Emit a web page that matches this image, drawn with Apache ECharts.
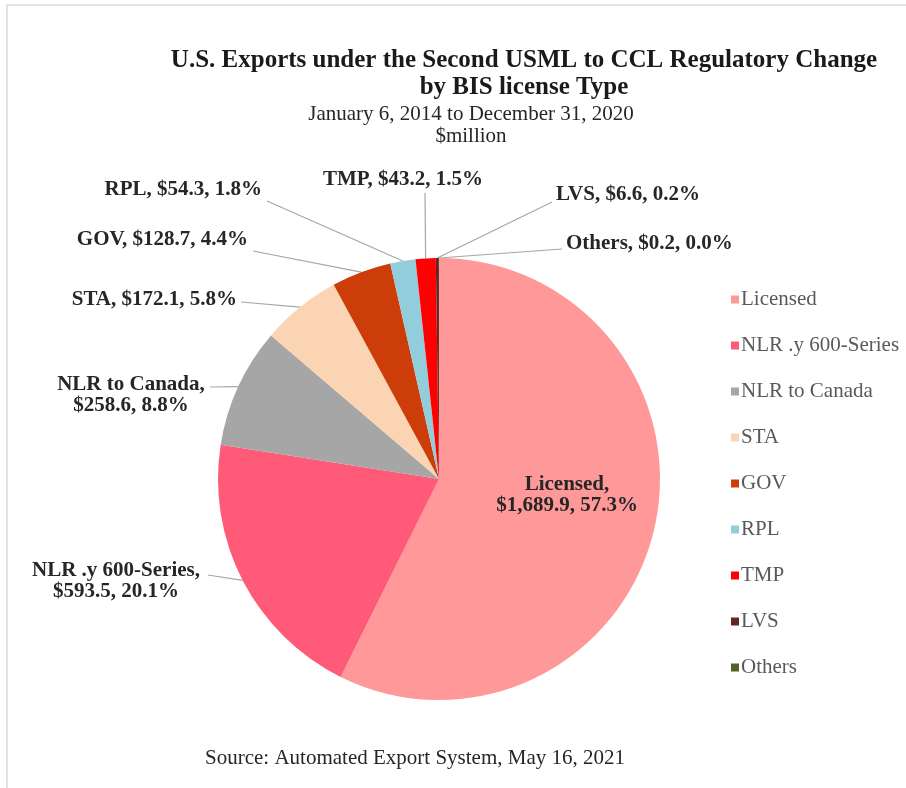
<!DOCTYPE html>
<html>
<head>
<meta charset="utf-8">
<script src="https://cdn.jsdelivr.net/npm/echarts@6/dist/echarts.min.js"></script>
<style>
html,body{margin:0;padding:0;background:#fff;}
#chart{width:906px;height:788px;}
</style>
</head>
<body>
<div id="chart"></div>
<script>
const categories = ['Licensed','NLR .y 600-Series','NLR to Canada','STA','GOV','RPL','TMP','LVS','Others'];
const values = [1689.9, 593.5, 258.6, 172.1, 128.7, 54.3, 43.2, 6.6, 0.2];
const colors = ['#FF9999','#FF5A78','#A6A6A6','#FBD4B4','#CC3D0A','#92CDDC','#FF0000','#632523','#4F6228'];
const twoLineLabels = ['Licensed','NLR .y 600-Series','NLR to Canada'];

const titleLines = ['U.S. Exports under the Second USML to CCL Regulatory Change','by BIS license Type'];
const subtitleLines = ['January 6, 2014 to December 31, 2020','$million'];
const sourceText = 'Source: Automated Export System, May 16, 2021';

// label layout (positions only)
const labelAnchors = [
  {x:567, y:495, align:'center'},
  {x:116, y:581, align:'center', end:[208,575]},
  {x:131, y:395, align:'center', end:[210,387]},
  {x:237, y:300, align:'right', end:[241,302]},
  {x:248, y:240, align:'right', end:[253,251]},
  {x:262, y:190, align:'right', end:[267,201]},
  {x:403, y:180, align:'center', end:[425,193]},
  {x:556, y:195, align:'left', end:[552,202]},
  {x:566, y:244, align:'left', end:[562,249]}
];

function fmtMoney(v){
  const parts = v.toFixed(1).split('.');
  parts[0] = parts[0].replace(/\B(?=(\d{3})+(?!\d))/g, ',');
  return '$' + parts.join('.');
}

const data = categories.map((c,i)=>({
  name:c, value:values[i],
  itemStyle:{color:colors[i]},
  labelLine: i===0 ? {show:false} : undefined
}));

const chart = echarts.init(document.getElementById('chart'));
const serif = '"Liberation Serif","Times New Roman",serif';
chart.setOption({
  backgroundColor:'#fff',
  animation:false,
  title:[
    {text:titleLines.join('\n'), left:519, top:42, textAlign:'center',
     textStyle:{fontFamily:serif, fontSize:25, fontWeight:'bold', color:'#1a1a1a', lineHeight:27}},
    {text:subtitleLines.join('\n'), left:466, top:98, textAlign:'center',
     textStyle:{fontFamily:serif, fontSize:21, fontWeight:'normal', color:'#262626', lineHeight:22}},
    {text:sourceText, left:410, top:743, textAlign:'center',
     textStyle:{fontFamily:serif, fontSize:21, fontWeight:'normal', color:'#262626'}}
  ],
  legend:{
    orient:'vertical', left:726, top:284,
    itemWidth:8, itemHeight:8, itemGap:25,
    icon:'rect',
    textStyle:{fontFamily:serif, fontSize:21, color:'#595959', padding:[0,0,0,-3]},
    data:categories
  },
  graphic:[
    {type:'line', shape:{x1:7,y1:5,x2:906,y2:5}, style:{stroke:'#d9d9d9', lineWidth:1.5}},
    {type:'line', shape:{x1:7,y1:5,x2:7,y2:788}, style:{stroke:'#d9d9d9', lineWidth:1.5}}
  ],
  series:[{
    type:'pie',
    center:[439,479], radius:221,
    startAngle:90, clockwise:true,
    avoidLabelOverlap:false,
    data:data,
    label:{
      show:true,
      fontFamily:serif, fontSize:21, fontWeight:'bold', color:'#262626', lineHeight:21,
      formatter:function(p){
        const sep = twoLineLabels.indexOf(p.name)>=0 ? ',\n' : ', ';
        return p.name + sep + fmtMoney(p.value) + ', ' + p.percent.toFixed(1) + '%';
      }
    },
    labelLine:{show:true, lineStyle:{color:'#a6a6a6', width:1.2}},
    labelLayout:function(p){
      const a = labelAnchors[p.dataIndex];
      const r = {x:a.x, y:a.y, align:a.align, verticalAlign:'middle'};
      if (a.end && p.labelLinePoints) {
        r.labelLinePoints = [p.labelLinePoints[0], a.end, a.end];
      }
      return r;
    },
    emphasis:{disabled:true}
  }]
});
</script>
</body>
</html>
